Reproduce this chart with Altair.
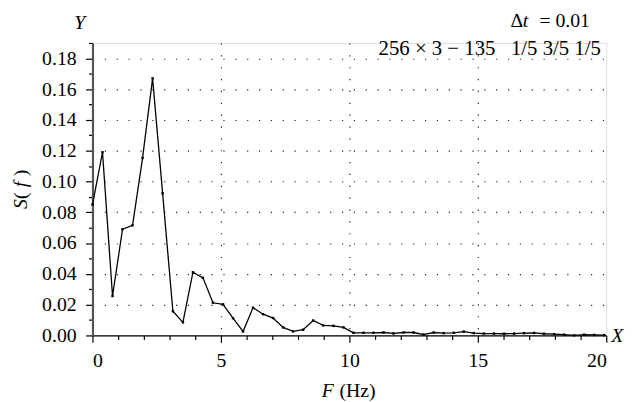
import altair as alt
import pandas as pd

FONT = "Liberation Serif, DejaVu Serif, Times New Roman, serif"

freq = [0.00, 0.39, 0.78, 1.17, 1.56, 1.95, 2.34, 2.73, 3.13, 3.52, 3.91, 4.30, 4.69,
        5.08, 5.47, 5.86, 6.25, 6.64, 7.03, 7.42, 7.81, 8.20, 8.59, 8.98, 9.38, 9.77,
        10.16, 10.55, 10.94, 11.33, 11.72, 12.11, 12.50, 12.89, 13.28, 13.67, 14.06,
        14.45, 14.84, 15.23, 15.63, 16.02, 16.41, 16.80, 17.19, 17.58, 17.97, 18.36,
        18.75, 19.14, 19.53, 19.92]
spec = [0.085, 0.119, 0.0256, 0.069, 0.0715, 0.1153, 0.167, 0.0923, 0.0157, 0.0085,
        0.0411, 0.0374, 0.0212, 0.0202, 0.0112, 0.0026, 0.018, 0.0138, 0.0113, 0.0052,
        0.0026, 0.0037, 0.0097, 0.0065, 0.0062, 0.0052, 0.0017, 0.0017, 0.0017, 0.0019,
        0.0013, 0.0019, 0.0019, 0.0006, 0.0019, 0.0015, 0.0017, 0.0025, 0.0015, 0.0012,
        0.0012, 0.0011, 0.0012, 0.0015, 0.0016, 0.0011, 0.0008, 0.0005, 0.0001, 0.0005,
        0.0003, 0.0002]

x_ticks = [0, 1, 2, 3, 4, 5, 6, 7, 8, 9, 10, 11, 12, 13, 14, 15, 16, 17, 18, 19, 20]
y_ticks = [0.00, 0.01, 0.02, 0.03, 0.04, 0.05, 0.06, 0.07, 0.08, 0.09, 0.10,
           0.11, 0.12, 0.13, 0.14, 0.15, 0.16, 0.17, 0.18, 0.19]

# annotation pieces (text, style)
note1 = [("Δ", "normal"), ("t", "italic"), ("=", "normal"), ("0.01", "normal")]
NB = "\u00a0"
note2 = f"256{NB}×{NB}3{NB}−{NB}135{NB}{NB}{NB}1/5{NB}3/5{NB}1/5"

df = pd.DataFrame({"f": freq, "s": spec})

W, H = 520, 296
LS = 20

x_axis = alt.Axis(
    values=x_ticks, title=None,
    labelExpr="datum.value % 5 === 0 ? datum.label : ''",
    labelFont=FONT, labelFontSize=LS, labelColor="black", labelPadding=8,
    tickSize={"condition": {"test": "datum.value % 5 === 0", "value": 7}, "value": 4},
    tickColor="black", tickWidth=1.2,
    domainColor="black", domainWidth=1.4,
    grid=True, gridColor="#222", gridWidth=1.2, gridDash=[1.2, 10.8],
    gridOpacity={"condition": {"test": "datum.value % 5 === 0 && datum.value > 0 && datum.value < 20", "value": 1}, "value": 0},
)
y_axis = alt.Axis(
    values=y_ticks, title=None,
    labelExpr="round(datum.value*100) % 2 === 0 ? format(datum.value, '.2f') : ''",
    labelFont=FONT, labelFontSize=LS, labelColor="black", labelPadding=9.5,
    tickSize={"condition": {"test": "round(datum.value*100) % 2 === 0", "value": 7}, "value": 4},
    tickColor="black", tickWidth=1.2,
    domainColor="#555", domainWidth=2.2,
    grid=True, gridColor="#222", gridWidth=1.2, gridDash=[1.2, 10.8],
    gridOpacity={"condition": {"test": "round(datum.value*100) % 2 === 0 && datum.value > 0.005", "value": 1}, "value": 0},
)

line = alt.Chart(df).mark_line(
    color="black", strokeWidth=1.3,
    point=alt.OverlayMarkDef(shape="square", size=6, filled=True, color="black"),
).encode(
    x=alt.X("f:Q", scale=alt.Scale(domain=[0, 20], nice=False, zero=False), axis=x_axis),
    y=alt.Y("s:Q", scale=alt.Scale(domain=[0, 0.19], nice=False), axis=y_axis),
)


def label(txt, x, y, style="normal", align="left", angle=0, size=LS, baseline="alphabetic"):
    return alt.Chart(pd.DataFrame({"t": [txt]})).mark_text(
        align=align, baseline=baseline, angle=angle, font=FONT, fontSize=size,
        fontStyle=style, color="black",
    ).encode(x=alt.value(x), y=alt.value(y), text="t:N")


note1_x = [423, 435.5, 452.5, 468.5]

texts = [
    label("Y", -13, -14, style="italic", align="center"),
    label("X", 525, 303, style="italic"),
    label("F", 232, 358, style="italic"),
    label("(Hz)", 250, 358),
    label("S", -66, 168, style="italic", angle=270),
    label("(", -66, 158, angle=270),
    label("f", -66, 146, style="italic", angle=270),
    label(")", -66, 135, angle=270),
    label(note2, 514.5, 12, align="right", size=21),
]
texts += [label(t, x, -16, style=s) for (t, s), x in zip(note1, note1_x)]

chart = alt.layer(line, *texts).properties(
    width=W, height=H,
    autosize=alt.AutoSizeParams(type="none"),
    padding={"left": 85.5, "top": 33, "right": 25, "bottom": 65},
).configure_view(stroke=None).configure(background="white")

chart.save("out.html", embed_options={"renderer": "svg", "actions": False})
